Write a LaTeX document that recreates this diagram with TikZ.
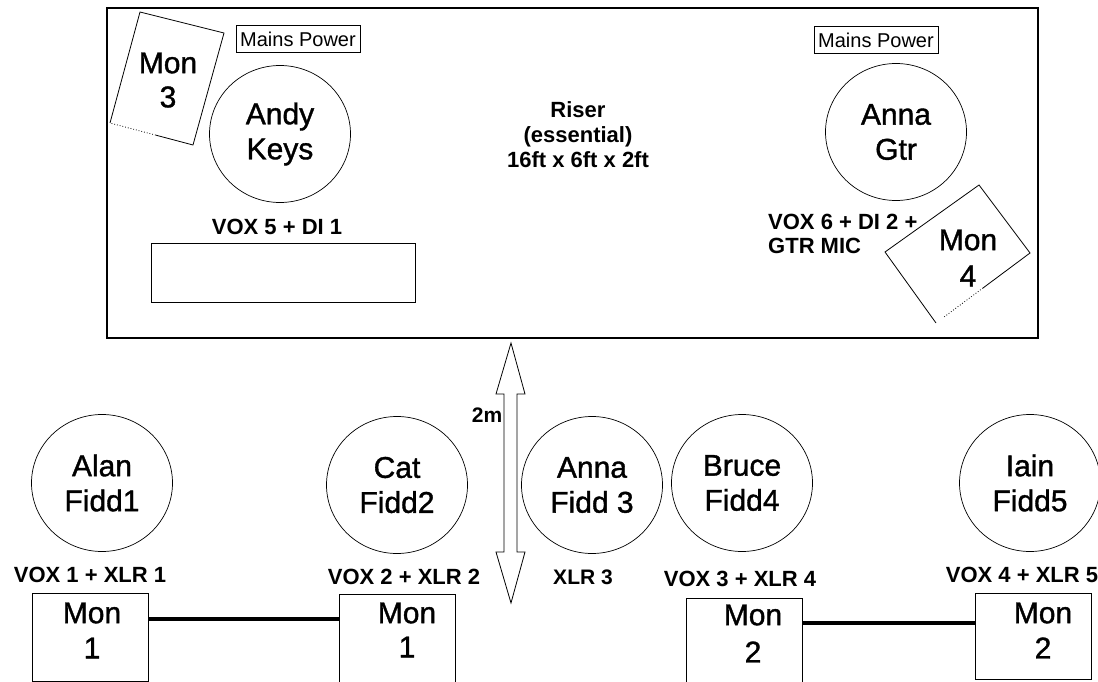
\documentclass[tikz,border=0pt]{standalone}
\usepackage{fontspec}
\setmainfont{Liberation Sans}
\newfontfamily\heavyfont{Liberation Sans}[FakeBold=1.2]
\usetikzlibrary{shapes.geometric,calc}
\begin{document}
\begin{tikzpicture}[x=1pt,y=-1pt,
  person/.style={draw, ellipse, line width=0.7pt, minimum width=141pt, minimum height=137pt, inner sep=0pt, align=center, font=\heavyfont\fontsize{30}{35}\selectfont},
  lbl/.style={font=\bfseries\fontsize{22}{26}\selectfont, inner sep=0pt},
  montxt/.style={font=\heavyfont\fontsize{30}{35}\selectfont, inner sep=0pt},
  monbox/.style={draw, line width=0.9pt, minimum width=116pt, inner sep=0pt},
  mains/.style={draw, line width=0.8pt, minimum width=124pt, minimum height=27pt, inner sep=0pt, font=\fontsize{20}{22}\selectfont},
  cable/.style={line width=4.5pt},
  thinline/.style={line width=0.8pt}]
\useasboundingbox (0,0) rectangle (1098,682);
\fill[white] (0,0) rectangle (1098,682);
\clip (0,0) rectangle (1098,682);

% riser
\node[draw, line width=1.1pt, minimum width=931pt, minimum height=330pt, inner sep=0pt] (riser) at (572.5,173) {};
\node[lbl, align=center, font=\bfseries\fontsize{22}{25}\selectfont] (risertxt) at (578,135) {Riser\\(essential)\\16ft x 6ft x 2ft};

\node[mains] (mp1) at (298,39) {Mains Power};
\node[mains] (mp2) at (876,40) {Mains Power};

% Mon 3 (rotated)
\coordinate (m3a) at (140,12);
\coordinate (m3b) at (224,33);
\coordinate (m3c) at (193,145);
\coordinate (m3d) at (110,123);
\draw[thinline] (m3d) -- (m3a) -- (m3b) -- (m3c) -- ($(m3c)!0.45!(m3d)$);
\draw[thinline, dotted] ($(m3c)!0.45!(m3d)$) -- (m3d);
\node[montxt] (m3t1) at (168,63) {Mon};
\node[montxt] (m3t2) at (168,97) {3};

\node[person] (andy) at (280,134) {Andy\\Keys};
\node[lbl] (vox5) at (277,227) {VOX 5 + DI 1};
\node[draw, thinline, minimum width=264pt, minimum height=59pt, inner sep=0pt] (keys) at (283,272.5) {};

\node[person] (annag) at (896,132) {Anna\\Gtr};
\node[lbl, align=left, anchor=west, font=\bfseries\fontsize{22}{24}\selectfont] (vox6) at (768,234) {VOX 6 + DI 2 +\\GTR MIC};

% Mon 4 (rotated)
\coordinate (m4t) at (979,185);
\coordinate (m4r) at (1030,253);
\coordinate (m4b) at (936,323);
\coordinate (m4l) at (885,252);
\draw[thinline] (m4b) -- (m4l) -- (m4t) -- (m4r) -- ($(m4r)!0.5!(m4b)$);
\draw[thinline, dotted] ($(m4r)!0.5!(m4b)$) -- ($(m4r)!0.92!(m4b)$);
\node[montxt] (m4t1) at (968,240) {Mon};
\node[montxt] (m4t2) at (968,276) {4};

% 2m arrow
\coordinate (atop) at (511,343);
\coordinate (abot) at (511,603);
\draw[thinline] (atop) -- (525,394) -- (517,394) -- (517,552) -- (525,552) -- (abot)
  -- (496,552) -- (504,552) -- (504,394) -- (496,394) -- cycle;
\node[lbl, font=\bfseries\fontsize{21}{24}\selectfont] (twom) at (487,415) {2m};

% fiddlers
\node[person] (alan) at (102,483) {Alan\\Fidd1};
\node[person] (cat) at (397,485) {Cat\\Fidd2};
\node[person] (annaf) at (592,485) {Anna\\Fidd 3};
\node[person] (bruce) at (742,483) {Bruce\\Fidd4};
\node[person] (iain) at (1030,483) {Iain\\Fidd5};

\node[lbl] (vox1) at (90,575) {VOX 1 + XLR 1};
\node[lbl] (vox2) at (404,577) {VOX 2 + XLR 2};
\node[lbl, font=\bfseries\fontsize{21}{24}\selectfont] (xlr3) at (583,577) {XLR 3};
\node[lbl] (vox3) at (740,579) {VOX 3 + XLR 4};
\node[lbl] (vox4) at (1022,575) {VOX 4 + XLR 5};

% monitor wedges
\node[monbox, minimum height=88pt] (m1a) at (90,637) {};
\node[monbox, minimum height=96pt] (m1b) at (397.5,642) {};
\node[monbox, minimum height=92pt] (m2a) at (744,644) {};
\node[monbox, minimum height=86pt] (m2b) at (1033.5,636) {};

\node[montxt] at (92,613) {Mon};
\node[montxt] at (92,648) {1};
\node[montxt] at (407,613) {Mon};
\node[montxt] at (407,647) {1};
\node[montxt] at (753,615) {Mon};
\node[montxt] at (753,652) {2};
\node[montxt] at (1043,613) {Mon};
\node[montxt] at (1043,648) {2};

\coordinate (c1) at (0,619);
\coordinate (c2) at (0,623);
\draw[cable] (m1a.east |- c1) -- (m1b.west |- c1);
\draw[cable] (m2a.east |- c2) -- (m2b.west |- c2);
\end{tikzpicture}
\end{document}
